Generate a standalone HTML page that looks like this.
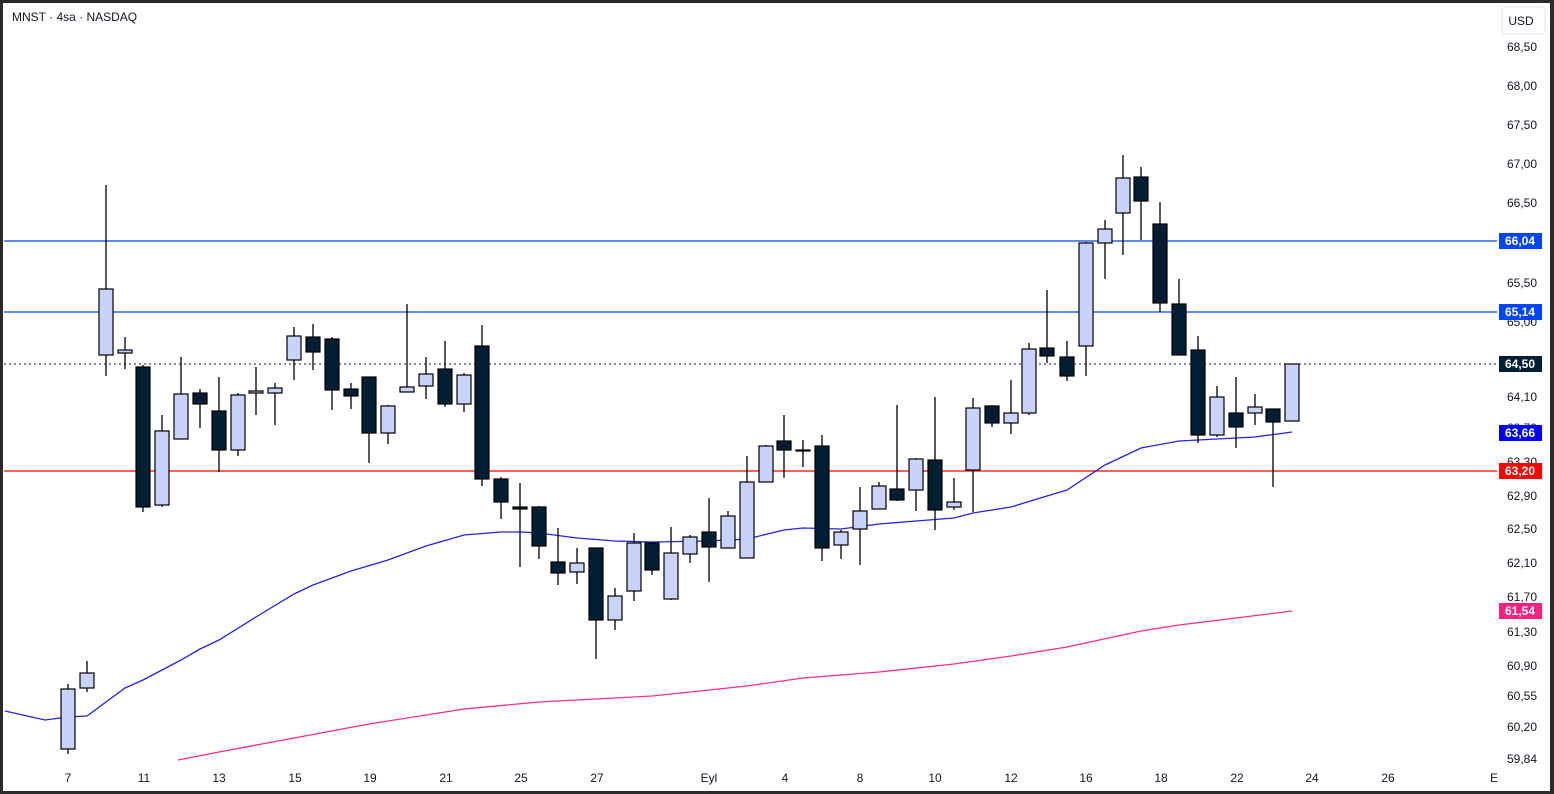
<!DOCTYPE html>
<html><head><meta charset="utf-8"><style>
html,body{margin:0;padding:0;background:#fff;}
svg{display:block;font-family:"Liberation Sans",Arial,sans-serif;}
</style></head><body>
<svg width="1554" height="794" viewBox="0 0 1554 794" xmlns="http://www.w3.org/2000/svg">
<rect x="0" y="0" width="1554" height="794" fill="#2a2a2a"/>
<rect x="3" y="3" width="1547" height="788" fill="#ffffff"/>
<text x="12" y="21" font-size="12" fill="#131722">MNST · 4sa · NASDAQ</text>
<rect x="1502" y="7" width="43" height="27" rx="4" fill="#fff" stroke="#e6e6e6"/>
<text x="1521" y="25" font-size="12" fill="#131722" text-anchor="middle">USD</text>
<g font-size="12" fill="#131722" text-anchor="end">
<text x="1537" y="51">68,50</text><text x="1537" y="90">68,00</text><text x="1537" y="129">67,50</text><text x="1537" y="168">67,00</text><text x="1537" y="207">66,50</text><text x="1537" y="287">65,50</text><text x="1537" y="326">65,00</text><text x="1537" y="401">64,10</text><text x="1537" y="432">63,70</text><text x="1537" y="466">63,30</text><text x="1537" y="500">62,90</text><text x="1537" y="533">62,50</text><text x="1537" y="567">62,10</text><text x="1537" y="601">61,70</text><text x="1537" y="636">61,30</text><text x="1537" y="670">60,90</text><text x="1537" y="700">60,55</text><text x="1537" y="731">60,20</text><text x="1537" y="763">59,84</text>
</g>
<g font-size="12" fill="#131722" text-anchor="middle">
<text x="68" y="782">7</text><text x="144" y="782">11</text><text x="219" y="782">13</text><text x="295" y="782">15</text><text x="370" y="782">19</text><text x="446" y="782">21</text><text x="521" y="782">25</text><text x="597" y="782">27</text><text x="709" y="782">Eyl</text><text x="785" y="782">4</text><text x="860" y="782">8</text><text x="935" y="782">10</text><text x="1011" y="782">12</text><text x="1086" y="782">16</text><text x="1161" y="782">18</text><text x="1237" y="782">22</text><text x="1312" y="782">24</text><text x="1388" y="782">26</text><text x="1494" y="782">E</text>
</g>
<line x1="4" y1="241" x2="1497" y2="241" stroke="#0044ff" stroke-width="1.3"/>
<line x1="4" y1="312" x2="1497" y2="312" stroke="#0044ff" stroke-width="1.3"/>
<line x1="4" y1="364" x2="1497" y2="364" stroke="#131722" stroke-width="1" stroke-dasharray="2,3"/>
<line x1="4" y1="471" x2="1497" y2="471" stroke="#ff0000" stroke-width="1.3"/>
<polyline fill="none" stroke="#2222ee" stroke-width="1.3" points="5,711 45,720 68,717 87,716 125,688 143,680 181,660 200,649 219,640 256,617 294,594 313,585 351,571 388,560 426,546 464,535 501,532 520,532 539,533 577,538 615,541 652,542 709,541 747,539 784,530 803,528 841,529 879,524 916,521 954,518 973,513 1011,507 1047,496 1067,490 1105,465 1141,448 1179,441 1198,440 1255,437 1292,432"/>
<polyline fill="none" stroke="#ff2e8a" stroke-width="1.3" points="178,760 219,752 294,738 369,724 464,709 539,702 652,696 747,686 803,678 879,672 954,664 1011,656 1067,647 1141,631 1179,625 1236,618 1292,611"/>
<g stroke="#000" stroke-width="1.3">
<line x1="68" y1="684" x2="68" y2="754"/><line x1="87" y1="661" x2="87" y2="692"/><line x1="106" y1="185" x2="106" y2="376"/><line x1="125" y1="337" x2="125" y2="369"/><line x1="143" y1="365" x2="143" y2="512"/><line x1="162" y1="415" x2="162" y2="507"/><line x1="181" y1="357" x2="181" y2="439"/><line x1="200" y1="389" x2="200" y2="428"/><line x1="219" y1="377" x2="219" y2="472"/><line x1="238" y1="393" x2="238" y2="456"/><line x1="256" y1="367" x2="256" y2="415"/><line x1="275" y1="383" x2="275" y2="425"/><line x1="294" y1="327" x2="294" y2="380"/><line x1="313" y1="324" x2="313" y2="370"/><line x1="332" y1="337" x2="332" y2="410"/><line x1="351" y1="383" x2="351" y2="409"/><line x1="369" y1="377" x2="369" y2="463"/><line x1="388" y1="405" x2="388" y2="444"/><line x1="407" y1="304" x2="407" y2="392"/><line x1="426" y1="357" x2="426" y2="399"/><line x1="445" y1="341" x2="445" y2="407"/><line x1="464" y1="373" x2="464" y2="412"/><line x1="482" y1="325" x2="482" y2="486"/><line x1="501" y1="477" x2="501" y2="519"/><line x1="520" y1="483" x2="520" y2="567"/><line x1="539" y1="506" x2="539" y2="559"/><line x1="558" y1="528" x2="558" y2="585"/><line x1="577" y1="548" x2="577" y2="584"/><line x1="596" y1="548" x2="596" y2="659"/><line x1="615" y1="588" x2="615" y2="630"/><line x1="634" y1="533" x2="634" y2="601"/><line x1="652" y1="543" x2="652" y2="575"/><line x1="671" y1="527" x2="671" y2="600"/><line x1="690" y1="535" x2="690" y2="563"/><line x1="709" y1="498" x2="709" y2="582"/><line x1="728" y1="511" x2="728" y2="548"/><line x1="747" y1="456" x2="747" y2="558"/><line x1="766" y1="445" x2="766" y2="482"/><line x1="784" y1="415" x2="784" y2="478"/><line x1="803" y1="440" x2="803" y2="467"/><line x1="822" y1="435" x2="822" y2="561"/><line x1="841" y1="530" x2="841" y2="559"/><line x1="860" y1="487" x2="860" y2="565"/><line x1="879" y1="482" x2="879" y2="509"/><line x1="897" y1="405" x2="897" y2="501"/><line x1="916" y1="458" x2="916" y2="511"/><line x1="935" y1="397" x2="935" y2="530"/><line x1="954" y1="478" x2="954" y2="510"/><line x1="973" y1="398" x2="973" y2="512"/><line x1="992" y1="405" x2="992" y2="427"/><line x1="1011" y1="380" x2="1011" y2="434"/><line x1="1029" y1="343" x2="1029" y2="415"/><line x1="1047" y1="290" x2="1047" y2="363"/><line x1="1067" y1="341" x2="1067" y2="381"/><line x1="1086" y1="242" x2="1086" y2="376"/><line x1="1105" y1="220" x2="1105" y2="279"/><line x1="1123" y1="155" x2="1123" y2="255"/><line x1="1141" y1="167" x2="1141" y2="240"/><line x1="1160" y1="202" x2="1160" y2="312"/><line x1="1179" y1="279" x2="1179" y2="355"/><line x1="1198" y1="336" x2="1198" y2="443"/><line x1="1217" y1="386" x2="1217" y2="437"/><line x1="1236" y1="377" x2="1236" y2="448"/><line x1="1255" y1="394" x2="1255" y2="425"/><line x1="1273" y1="409" x2="1273" y2="487"/><line x1="1292" y1="364" x2="1292" y2="421"/>
</g>
<g stroke="#000" stroke-width="1.2">
<g fill="#c8d3fa">
<rect x="61" y="689" width="14" height="60"/><rect x="80" y="673" width="14" height="15"/><rect x="99" y="289" width="14" height="66"/><rect x="118" y="350" width="14" height="3"/><rect x="155" y="431" width="14" height="74"/><rect x="174" y="394" width="14" height="45"/><rect x="231" y="395" width="14" height="55"/><rect x="249" y="391" width="14" height="2"/><rect x="268" y="388" width="14" height="5"/><rect x="287" y="336" width="14" height="24"/><rect x="381" y="406" width="14" height="27"/><rect x="400" y="387" width="14" height="5"/><rect x="419" y="374" width="14" height="12"/><rect x="457" y="375" width="14" height="29"/><rect x="570" y="563" width="14" height="9"/><rect x="608" y="596" width="14" height="24"/><rect x="627" y="543" width="14" height="48"/><rect x="664" y="553" width="14" height="46"/><rect x="683" y="537" width="14" height="17"/><rect x="721" y="516" width="14" height="32"/><rect x="740" y="482" width="14" height="76"/><rect x="759" y="446" width="14" height="36"/><rect x="834" y="532" width="14" height="13"/><rect x="853" y="511" width="14" height="18"/><rect x="872" y="486" width="14" height="23"/><rect x="909" y="459" width="14" height="31"/><rect x="947" y="502" width="14" height="5"/><rect x="966" y="408" width="14" height="62"/><rect x="1004" y="413" width="14" height="10"/><rect x="1022" y="349" width="14" height="64"/><rect x="1079" y="243" width="14" height="103"/><rect x="1098" y="229" width="14" height="14"/><rect x="1116" y="178" width="14" height="35"/><rect x="1210" y="397" width="14" height="38"/><rect x="1248" y="407" width="14" height="6"/><rect x="1285" y="364" width="14" height="57"/>
</g>
<g fill="#021e33">
<rect x="136" y="367" width="14" height="140"/><rect x="193" y="393" width="14" height="11"/><rect x="212" y="411" width="14" height="39"/><rect x="306" y="337" width="14" height="15"/><rect x="325" y="339" width="14" height="51"/><rect x="344" y="389" width="14" height="7"/><rect x="362" y="377" width="14" height="56"/><rect x="438" y="369" width="14" height="35"/><rect x="475" y="346" width="14" height="133"/><rect x="494" y="479" width="14" height="23"/><rect x="513" y="507" width="14" height="2"/><rect x="532" y="507" width="14" height="39"/><rect x="551" y="562" width="14" height="11"/><rect x="589" y="548" width="14" height="72"/><rect x="645" y="543" width="14" height="27"/><rect x="702" y="532" width="14" height="15"/><rect x="777" y="441" width="14" height="9"/><rect x="796" y="450" width="14" height="1"/><rect x="815" y="446" width="14" height="102"/><rect x="890" y="489" width="14" height="11"/><rect x="928" y="460" width="14" height="50"/><rect x="985" y="406" width="14" height="17"/><rect x="1040" y="348" width="14" height="8"/><rect x="1060" y="357" width="14" height="19"/><rect x="1134" y="177" width="14" height="24"/><rect x="1153" y="224" width="14" height="79"/><rect x="1172" y="304" width="14" height="51"/><rect x="1191" y="350" width="14" height="85"/><rect x="1229" y="413" width="14" height="14"/><rect x="1266" y="409" width="14" height="13"/>
</g>
</g>
<g font-size="12" font-weight="bold" fill="#fff" text-anchor="middle">
<rect x="1499" y="233" width="43" height="16" fill="#0044ff"/><text x="1520" y="245">66,04</text>
<rect x="1499" y="304" width="43" height="16" fill="#0044ff"/><text x="1520" y="316">65,14</text>
<rect x="1499" y="356" width="43" height="16" fill="#021e33"/><text x="1520" y="368">64,50</text>
<rect x="1499" y="425" width="43" height="16" fill="#0000ff"/><text x="1520" y="437">63,66</text>
<rect x="1499" y="463" width="43" height="16" fill="#ff0000"/><text x="1520" y="475">63,20</text>
<rect x="1499" y="603" width="43" height="16" fill="#ff2080"/><text x="1520" y="615">61,54</text>
</g>
</svg>
</body></html>
